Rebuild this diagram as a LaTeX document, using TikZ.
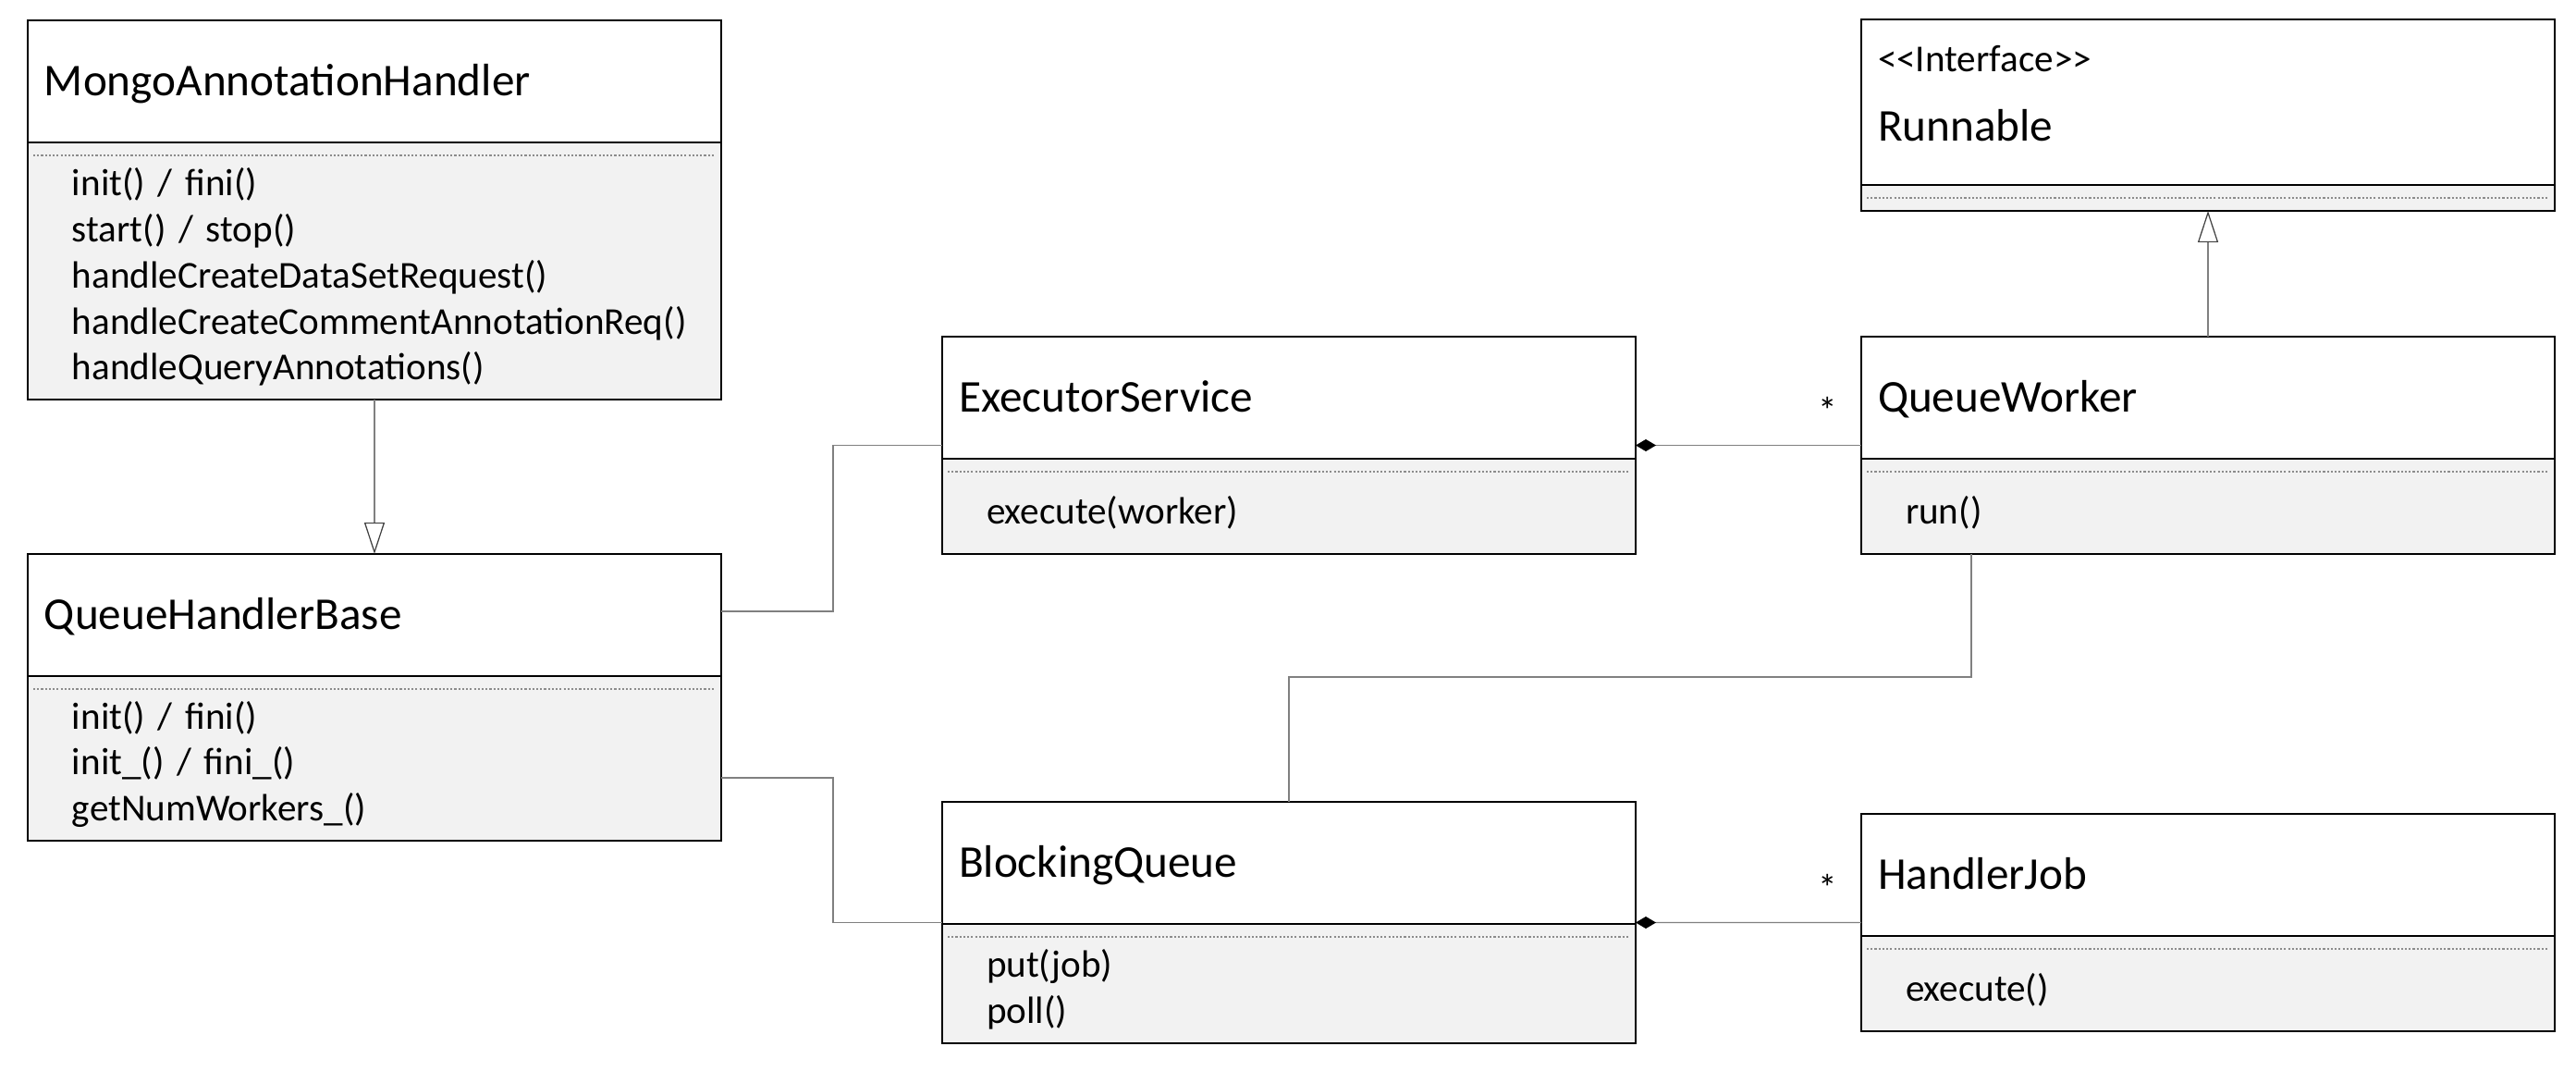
\documentclass[tikz,border=0pt]{standalone}
\usepackage{fontspec}
\setmainfont{Carlito}
\usepackage{tikz}
\usetikzlibrary{positioning,arrows.meta,calc,fit}
\definecolor{opsgray}{HTML}{F2F2F2}
\definecolor{linkgray}{HTML}{808080}
\newcommand{\namefont}{\fontsize{14}{17}\selectfont}
\newcommand{\opsfont}{\fontsize{11.7}{14.2}\selectfont}

\begin{document}
\begin{tikzpicture}[
    box/.style={draw, line width=0.7pt, outer sep=0pt, fill=white, align=left,
                text width=7.14cm, inner xsep=0.18cm, inner ysep=0pt, font=\namefont},
    head/.style={box, minimum height=1.32cm, text height=9pt, text depth=0pt},
    opsbox/.style={box, fill=opsgray, text width=6.54cm, inner xsep=0.48cm, inner ysep=0.05cm,
                   font=\opsfont},
    ops/.style={opsbox, execute at begin node={\rule{0pt}{12.2pt}}},
    cls/.style={inner sep=0pt, outer sep=0pt},
    dots/.style={draw=black!45, line width=0.3pt, dash pattern=on 0.6pt off 0.6pt},
    link/.style={draw=linkgray, line width=0.35pt},
    gen/.style={link, -{Triangle[color=black!75, length=0.34cm, width=0.22cm, open]}},
    comp/.style={link, {Diamond[color=black, length=0.22cm, width=0.13cm]}-},
    mult/.style={at end, anchor=south east, inner sep=0pt, font=\opsfont,
                 xshift=-0.25cm, yshift=0.22cm}
]
    \useasboundingbox (0,0) rectangle (27.86,-11.58);

    \node[head, anchor=north west] (mongo) at (0.30,-0.22) {MongoAnnotationHandler};
    \node[ops, below=0pt of mongo, minimum height=2.78cm] (mongoops)
        {init() / fini()\\start() / stop()\\handleCreateDataSetRequest()\\handleCreateCommentAnnotationReq()\\handleQueryAnnotations()};

    \node[head, below=1.67cm of mongoops] (qhb) {QueueHandlerBase};
    \node[ops, below=0pt of qhb, minimum height=1.78cm] (qhbops)
        {init() / fini()\\init\_() / fini\_()\\getNumWorkers\_()};

    \node[head, anchor=north west] (execsvc) at (10.19,-3.64) {ExecutorService};
    \node[ops, below=0pt of execsvc, minimum height=1.03cm] (execops) {execute(worker)};

    \node[head, right=2.44cm of execsvc] (worker) {QueueWorker};
    \node[ops, below=0pt of worker, minimum height=1.03cm] (workerops) {run()};

    \node[opsbox, above=1.36cm of worker, minimum height=0.28cm] (runops) {};
    \node[box, above=0pt of runops, minimum height=1.79cm] (runnable)
        {{\opsfont <\kern0pt<Interface>\kern0pt>}\\[4.3pt]Runnable\rule[-0.2cm]{0pt}{0.2cm}};

    \node[head, below=2.68cm of execops] (bqueue) {BlockingQueue};
    \node[ops, below=0pt of bqueue, minimum height=1.29cm] (bqops) {put(job)\\poll()};

    \node[head, below=2.81cm of workerops] (job) {HandlerJob};
    \node[ops, below=0pt of job, minimum height=1.03cm] (jobops) {execute()};

    \foreach \o in {mongoops,runops,qhbops,execops,workerops,bqops,jobops}
        \draw[dots] ([xshift=0.06cm,yshift=-0.14cm]\o.north west) -- ([xshift=-0.06cm,yshift=-0.14cm]\o.north east);

    \node[cls, fit=(qhb)(qhbops)] (qhbcls) {};
    \node[cls, fit=(execsvc)(execops)] (execcls) {};
    \node[cls, fit=(worker)(workerops)] (workercls) {};
    \node[cls, fit=(bqueue)(bqops)] (bqcls) {};
    \node[cls, fit=(job)(jobops)] (jobcls) {};

    \draw[gen] (mongoops.south) -- (qhb.north);
    \draw[gen] (worker.north) -- (runops.south);
    \draw[link] ([yshift=0.93cm]qhbcls.east) -- ++(1.21,0) |- (execcls.west);
    \draw[link] ([yshift=-0.87cm]qhbcls.east) -- ++(1.21,0) |- (bqcls.west);
    \draw[comp] (execcls.east) -- node[mult]{*} (workercls.west);
    \draw[comp] (bqcls.east) -- node[mult]{*} (jobcls.west);
    \draw[link] ([xshift=1.19cm]workerops.south west) -- ++(0,-1.33) -| (bqueue.north);
\end{tikzpicture}
\end{document}
